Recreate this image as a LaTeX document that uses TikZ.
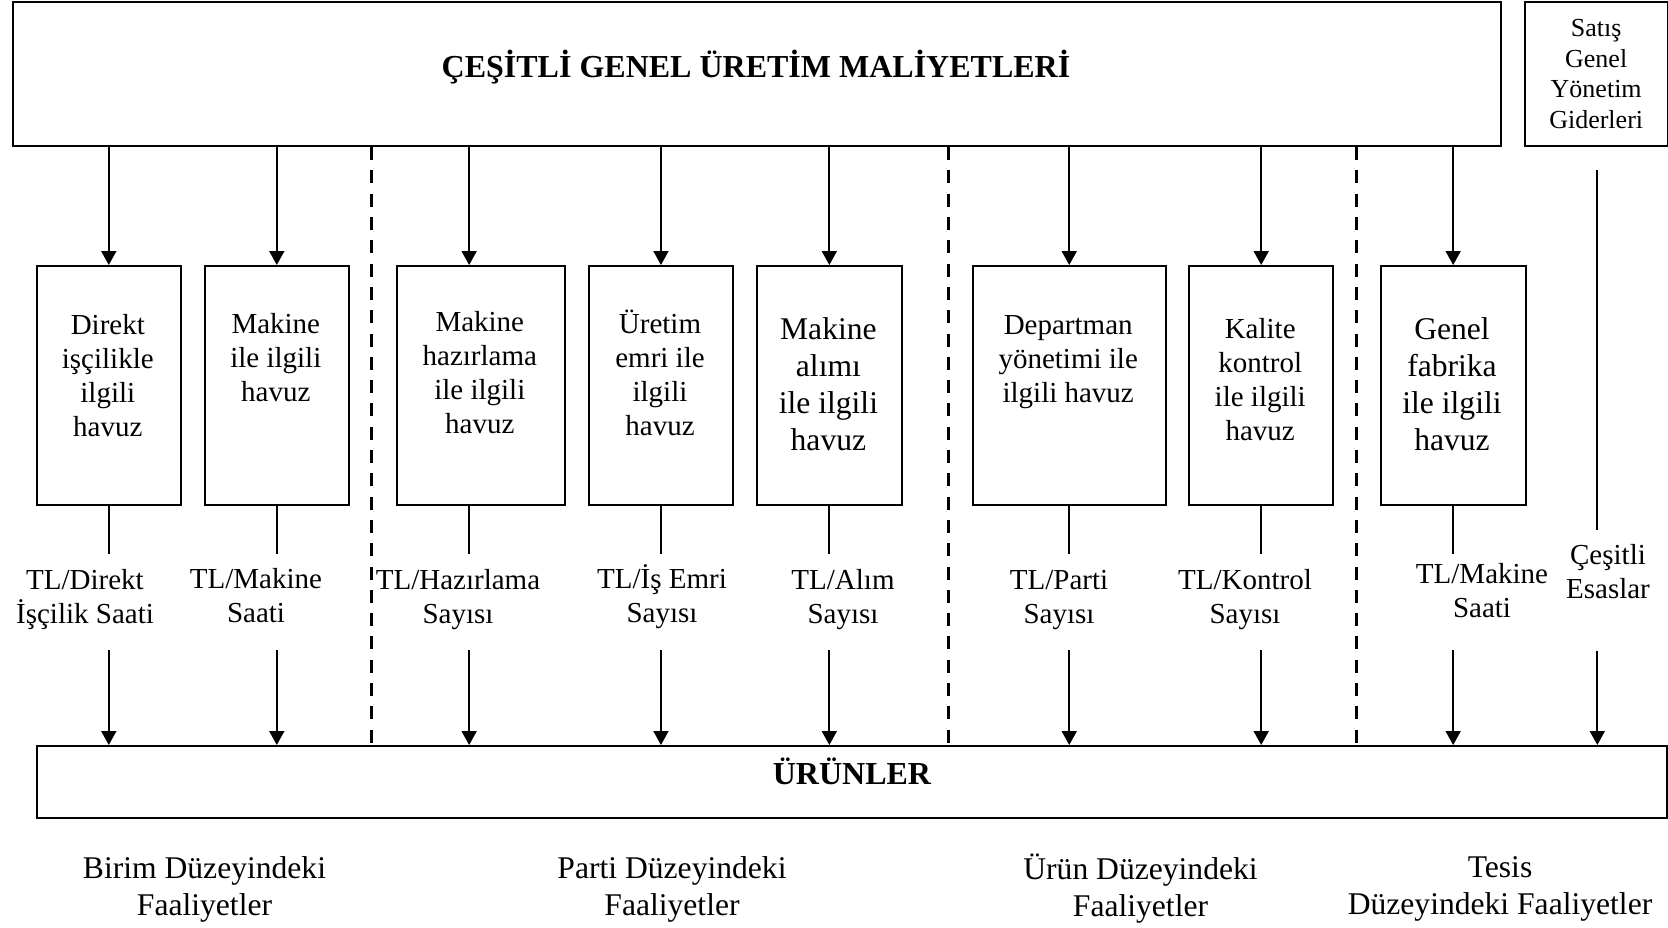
\documentclass[tikz,border=0pt]{standalone}
\usepackage{fontspec}
\setmainfont{Liberation Serif}
\usetikzlibrary{arrows.meta}
\begin{document}
\begin{tikzpicture}[x=1pt,y=-1pt,
  frame/.style={draw, line width=1.9pt, inner sep=0pt, anchor=north west},
  pool/.style={draw, line width=2pt, inner sep=0pt, anchor=north west,
               minimum height=239pt},
  pooltext/.style={align=center, inner sep=0pt, font=\fontsize{29}{34}\selectfont},
  poolbig/.style={align=center, inner sep=0pt, font=\fontsize{31.6}{37}\selectfont},
  driver/.style={align=center, inner sep=0pt, font=\fontsize{29}{34}\selectfont},
  level/.style={align=center, inner sep=0pt, font=\fontsize{31.6}{37}\selectfont},
  flow/.style={line width=1.8pt, -{Triangle[length=14pt,width=15pt]}},
  link/.style={line width=1.8pt},
  divider/.style={line width=2.8pt, dash pattern=on 13pt off 10.3pt}
]
\useasboundingbox (0,0) rectangle (1668,927);

% overhead cost pool and selling/administrative expenses
\node[frame, minimum width=1488pt, minimum height=144pt] (mfg) at (12,1.2) {};
\node[inner sep=0pt, font=\bfseries\fontsize{32}{38}\selectfont] (mfgt) at (756,67)
  {ÇEŞİTLİ GENEL ÜRETİM MALİYETLERİ};
\node[frame, minimum width=142.5pt, minimum height=144pt, align=center,
      font=\fontsize{26}{30.5}\selectfont] (sga) at (1524,1.2)
  {Satış\\Genel\\Yönetim\\Giderleri};

% products
\node[frame, minimum width=1630pt, minimum height=72pt] (prod) at (36,745) {};
\node[inner sep=0pt, font=\bfseries\fontsize{32}{38}\selectfont] (prodt) at (852,771) {ÜRÜNLER};

% activity cost pools
\node[pool, minimum width=143.6pt] (b1) at (36,265) {};
\node[pool, minimum width=144.4pt] (b2) at (203.6,265) {};
\node[pool, minimum width=168.3pt] (b3) at (395.7,265) {};
\node[pool, minimum width=144.1pt] (b4) at (587.9,265) {};
\node[pool, minimum width=144.7pt] (b5) at (756,265) {};
\node[pool, minimum width=192.5pt] (b6) at (972,265) {};
\node[pool, minimum width=143.6pt] (b7) at (1188.4,265) {};
\node[pool, minimum width=144.9pt] (b8) at (1379.7,265) {};

\node[pooltext] (t1) at (107.8,376) {Direkt\\işçilikle\\ilgili\\havuz};
\node[pooltext] (t2) at (275.8,357.8) {Makine\\ile ilgili\\havuz};
\node[pooltext] (t3) at (479.8,372.5) {Makine\\hazırlama\\ile ilgili\\havuz};
\node[pooltext] (t4) at (660,373.3) {Üretim\\emri ile\\ilgili\\havuz};
\node[poolbig]  (t5) at (828.4,384.6) {Makine\\alımı\\ile ilgili\\havuz};
\node[pooltext] (t6) at (1068.2,362.2) {Departman\\yönetimi ile\\ilgili havuz};
\node[pooltext] (t7) at (1260.2,379.2) {Kalite\\kontrol\\ile ilgili\\havuz};
\node[poolbig]  (t8) at (1452,384.6) {Genel\\fabrika\\ile ilgili\\havuz};

% cost drivers
\node[driver] (r1) at (85,599.5) {TL/Direkt\\İşçilik Saati};
\node[driver] (r2) at (256,596) {TL/Makine\\Saati};
\node[driver] (r3) at (458,599.7) {TL/Hazırlama\\Sayısı};
\node[driver] (r4) at (662,596.7) {TL/İş Emri\\Sayısı};
\node[driver] (r5) at (843,599.7) {TL/Alım\\Sayısı};
\node[driver] (r6) at (1059,599.7) {TL/Parti\\Sayısı};
\node[driver] (r7) at (1245,599.7) {TL/Kontrol\\Sayısı};
\node[driver] (r8) at (1482,590.8) {TL/Makine\\Saati};
\node[driver] (r9) at (1608,572) {Çeşitli\\Esaslar};

% activity levels
\node[level] (v1) at (204.5,889) {Birim Düzeyindeki\\Faaliyetler};
\node[level] (v2) at (672,889) {Parti Düzeyindeki\\Faaliyetler};
\node[level] (v3) at (1140.5,889) {Ürün Düzeyindeki\\Faaliyetler};
\node[level] (v4) at (1500,889) {Tesis\\Düzeyindeki Faaliyetler};

% channel of the set-up pool (left of the box centre)
\coordinate (a3) at ([xshift=-11.7pt]b3.north);
\coordinate (a3s) at ([xshift=-11.7pt]b3.south);

% overhead flowing into the pools
\foreach \b in {b1,b2,b4,b5,b6,b7,b8}
  \draw[flow] (\b.north |- mfg.south) -- (\b.north);
\draw[flow] (a3 |- mfg.south) -- (a3);

% pools to products through the drivers
\foreach \b in {b1,b2,b4,b5,b6,b7,b8}{
  \draw[link] (\b.south) -- ++(0,48);
  \draw[flow] (\b.south) ++(0,144) -- (\b.south |- prod.north);
}
\draw[link] (a3s) -- ++(0,48);
\draw[flow] (a3s) ++(0,144) -- (a3s |- prod.north);

% selling and administrative expenses
\coordinate (sx) at ([xshift=1.1pt]sga.south);
\draw[link] (sx) ++(0,23) -- ++(0,360);
\draw[flow] (sx) ++(0,504) -- (sx |- prod.north);

% boundaries between activity levels
\coordinate (d1) at (371.8,145);
\coordinate (d2) at (948.2,145);
\coordinate (d3) at (1356.5,145);
\foreach \d in {d1,d2,d3}
  \draw[divider] (\d |- mfg.south) -- (\d |- prod.north);
\end{tikzpicture}
\end{document}
